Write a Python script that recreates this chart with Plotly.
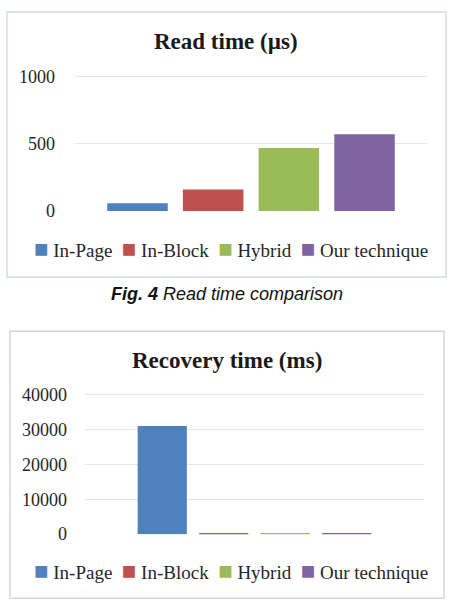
import plotly.graph_objects as go

W, H = 452, 616

series = ["In-Page", "In-Block", "Hybrid", "Our technique"]
colors = ["#4F81BD", "#C0504D", "#9BBB59", "#8064A2"]
read_time_us = [58, 159, 469, 572]
recovery_time_ms = [30950, 250, 230, 260]
read_ticks = [0, 500, 1000]
read_tick_labels = ["0", "500", "1000"]
recovery_ticks = [0, 10000, 20000, 30000, 40000]
recovery_tick_labels = ["0", "10000", "20000", "30000", "40000"]
category = [""]

SERIF = "Liberation Serif"

def px(x):
    return x / W

def py(y):
    return 1 - y / H

fig = go.Figure()
for name, col, v in zip(series, colors, read_time_us):
    fig.add_trace(go.Bar(x=category, y=[v], name=name, marker=dict(color=col, line=dict(width=0)),
                         xaxis="x", yaxis="y", showlegend=False))
for name, col, v in zip(series, colors, recovery_time_ms):
    fig.add_trace(go.Bar(x=category, y=[v], name=name, marker=dict(color=col, line=dict(width=0)),
                         xaxis="x2", yaxis="y2", showlegend=False))

grid = "#E4E7EB"
# slight headroom so the top gridline is drawn inside the plot area
top_pad = 1.01
fig.update_layout(
    width=W, height=H, margin=dict(l=0, r=0, t=0, b=0),
    paper_bgcolor="white", plot_bgcolor="white",
    barmode="group",
    bargap=0.14, bargroupgap=0.2,
    xaxis=dict(domain=[px(75), px(427)], showticklabels=False, showgrid=False, zeroline=False,
               showline=False, range=[-0.5, 0.5]),
    yaxis=dict(domain=[py(209), py(209 - 138 * top_pad)], range=[0, 1000 * top_pad],
               tickvals=read_ticks, ticktext=read_tick_labels, showgrid=True,
               gridcolor=grid, gridwidth=1, zeroline=False, showline=False,
               tickfont=dict(family=SERIF, size=18, color="#262626"), ticklabelstandoff=19),
    xaxis2=dict(domain=[px(85), px(424)], showticklabels=False, showgrid=False, zeroline=False,
                showline=False, range=[-0.5925, 0.5925], anchor="y2"),
    yaxis2=dict(domain=[py(542), py(542 - 144 * top_pad)], range=[0, 40000 * top_pad],
                tickvals=recovery_ticks, ticktext=recovery_tick_labels, showgrid=True,
                gridcolor=grid, gridwidth=1, zeroline=False, showline=False, anchor="x2",
                tickfont=dict(family=SERIF, size=18, color="#262626"), ticklabelstandoff=17),
)

# chart frames
fig.add_shape(type="rect", xref="paper", yref="paper", x0=px(7), x1=px(446), y0=py(277), y1=py(4),
              line=dict(color="#D3DCE8", width=1.5), fillcolor="rgba(0,0,0,0)", layer="below")
fig.add_shape(type="rect", xref="paper", yref="paper", x0=px(10), x1=px(444), y0=py(608), y1=py(333),
              line=dict(color="#D6D6D6", width=1.5), fillcolor="rgba(0,0,0,0)", layer="below")

# titles
fig.add_annotation(text="<b>Read time (µs)</b>", xref="paper", yref="paper", x=px(226), y=py(35),
                   showarrow=False, xanchor="center", yanchor="middle",
                   font=dict(family=SERIF, size=23, color="#1A1A1A"))
fig.add_annotation(text="<b>Recovery time (ms)</b>", xref="paper", yref="paper", x=px(227), y=py(363),
                   showarrow=False, xanchor="center", yanchor="middle",
                   font=dict(family=SERIF, size=23, color="#1A1A1A"))
# caption
fig.add_annotation(text="<b><i>Fig. 4</i></b><i> Read time comparison</i>", xref="paper", yref="paper",
                   x=px(227), y=py(295), showarrow=False, xanchor="center", yanchor="middle",
                   font=dict(family="Liberation Sans", size=18, color="#111111"))

# legends (built from the series names and colours)
def legend_text():
    parts = []
    for name, col in zip(series, colors):
        parts.append('<span style="color:%s;font-size:24px">■</span>\u00a0%s' % (col, name))
    return "\u00a0\u00a0".join(parts)

for yc in (248, 580):
    fig.add_annotation(text=legend_text(), xref="paper", yref="paper", x=px(231), y=py(yc),
                       showarrow=False, xanchor="center", yanchor="middle",
                       font=dict(family=SERIF, size=19, color="#262626"))

fig.write_html("out.html", post_script="document.body.style.margin='0';document.documentElement.style.margin='0';")
